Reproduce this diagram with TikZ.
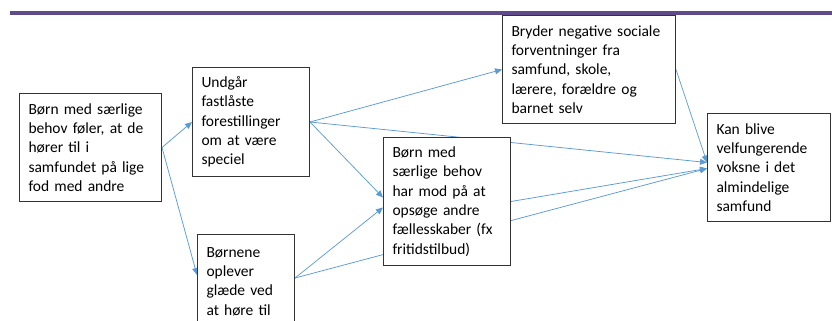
\documentclass[tikz,border=0pt]{standalone}
\usepackage{fontspec}
\setmainfont{Carlito}
\usetikzlibrary{arrows.meta,calc,backgrounds}
\definecolor{linkblue}{HTML}{5B9BD5}
\definecolor{rulepurple}{HTML}{5F4B8B}
\tikzset{
  box/.style={draw=black!80, fill=white, line width=1pt, anchor=north west,
    align=left, inner xsep=9pt, inner ysep=0pt,
    font=\fontsize{15.5}{19.3}\selectfont},
  link/.style={draw=linkblue, line width=0.75pt},
  arrowlink/.style={link, -{Triangle[length=7pt,width=6pt]}}
}
\begin{document}
\begin{tikzpicture}[x=1pt,y=-1pt]
  \clip (0,0) rectangle (832,321);
  \draw[rulepurple, line width=3.2pt] (10,13) -- (832,13);
  % boxes
  \node[box, text width=124, minimum height=108] (belong) at (19,93)
    {Børn med særlige\\behov føler, at de\\hører til i\\samfundet på lige\\fod med andre};
  \node[box, text width=99, minimum height=109] (avoid) at (192,67)
    {Undgår\\fastlåste\\forestillinger\\om at være\\speciel};
  \node[box, text width=155, minimum height=108] (breaks) at (502,15)
    {Bryder negative sociale\\forventninger fra\\samfund, skole,\\lærere, forældre og\\barnet selv};
  \node[box, text width=109, minimum height=128] (courage) at (383,137)
    {Børn med\\særlige behov\\har mod på at\\opsøge andre\\fællesskaber (fx\\fritidstilbud)};
  \node[box, text width=79, minimum height=132] (joy) at (197,234)
    {Børnene\\oplever\\glæde ved\\at høre til\\~\\~};
  \node[box, text width=105, minimum height=108] (adults) at (707,113)
    {Kan blive\\velfungerende\\voksne i det\\almindelige\\samfund};
  \coordinate (joyout) at ($(joy.north east)+(0,44)$);
  % connectors, behind the boxes
  \begin{scope}[on background layer]
    \draw[arrowlink] (belong.east) to (avoid.west);
    \draw[arrowlink] (belong.east) to ($(joy.north west)+(0,41)$);
    \draw[arrowlink] (avoid.east) to (breaks.west);
    \draw[arrowlink] (avoid.east) to ([yshift=4pt]courage.west);
    \draw[arrowlink] (avoid.east) to ([yshift=5pt]adults.west);
    \draw[arrowlink] (breaks.east) to ([yshift=5pt]adults.west);
    \draw[arrowlink] (courage.east) to ([yshift=-1pt]adults.west);
    \draw[arrowlink] (joyout) to ([yshift=-6pt]courage.west);
    \draw[arrowlink] (joyout) to ([yshift=-1pt]adults.west);
  \end{scope}
\end{tikzpicture}
\end{document}
